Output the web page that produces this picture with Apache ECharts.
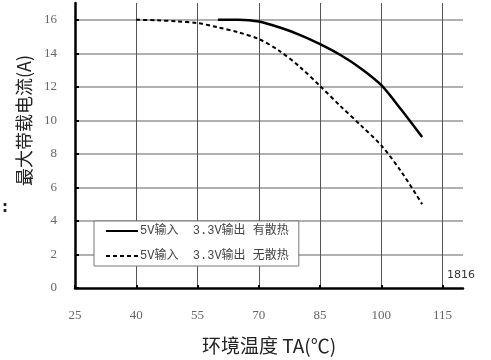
<!DOCTYPE html>
<html>
<head>
<meta charset="utf-8">
<script src="https://cdn.jsdelivr.net/npm/echarts@6/dist/echarts.min.js"></script>
<style>
  html, body { margin: 0; padding: 0; background: #fff; }
  #chart { width: 491px; height: 360px; }
</style>
</head>
<body>
<div id="chart"></div>
<script>
// Axis ranges and tick steps
const xRange = [25, 120];
const xStep = 15;
const yRange = [0, 17];
const yStep = 2;

// 5V in, 3.3V out, with heat sink
const tempWithSink = [60, 65, 70, 75, 80, 85, 90, 95, 100, 105, 110];
const currentWithSink = [16, 16, 15.9, 15.55, 15.1, 14.55, 13.9, 13.1, 12.1, 10.6, 9.0];

// 5V in, 3.3V out, without heat sink
const tempNoSink = [40, 45, 50, 55, 60, 65, 70, 75, 80, 85, 90, 95, 100, 105, 110];
const currentNoSink = [16, 15.97, 15.9, 15.8, 15.55, 15.25, 14.85, 14.15, 13.2, 12.05, 10.85, 9.7, 8.5, 6.9, 5.0];

const seriesNames = ['5V输入  3.3V输出 有散热', '5V输入  3.3V输出 无散热'];

const zip = (xs, ys) => xs.map((x, i) => [x, ys[i]]);

const labelFont = "Liberation Serif, DejaVu Serif, serif";
const cjkFont = "Noto Sans CJK SC";

const chart = echarts.init(document.getElementById('chart'), null, { renderer: 'canvas' });
chart.setOption({
  backgroundColor: '#fff',
  animation: false,
  grid: { left: 75, right: 28, top: 3, bottom: 66 },
  legend: {
    orient: 'vertical',
    left: 94,
    top: 221,
    padding: [4, 10, 4, 11],
    itemWidth: 32,
    itemHeight: 14,
    itemGap: 13,
    backgroundColor: '#fff',
    borderColor: '#777',
    borderWidth: 1,
    borderRadius: 0,
    itemStyle: { opacity: 0 },
    textStyle: { fontFamily: "Liberation Mono, Noto Sans CJK SC, monospace", fontSize: 12, color: '#444', padding: [0, 0, 0, -3] },
    data: seriesNames
  },
  xAxis: {
    type: 'value',
    min: xRange[0],
    max: xRange[1],
    interval: xStep,
    name: '环境温度 TA(℃)',
    nameLocation: 'middle',
    nameGap: 48,
    nameTextStyle: { fontFamily: cjkFont, fontSize: 19, color: '#222' },
    axisLine: { show: true, onZero: false, lineStyle: { color: '#000', width: 2.5 } },
    axisTick: { show: true, inside: true, length: 3, lineStyle: { color: '#000', width: 2 } },
    axisLabel: { margin: 21, showMaxLabel: false, fontFamily: labelFont, fontSize: 13, color: '#666' },
    splitLine: { show: true, showMinLine: false, showMaxLine: false, lineStyle: { color: '#555', width: 1 } }
  },
  yAxis: {
    type: 'value',
    min: yRange[0],
    max: yRange[1],
    interval: yStep,
    name: '最大带载电流(A)',
    nameLocation: 'middle',
    nameGap: 41,
    nameTextStyle: { fontFamily: cjkFont, fontSize: 18, color: '#222', padding: [0, 0, 0, 50] },
    axisLine: { show: true, onZero: false, lineStyle: { color: '#000', width: 2.5 } },
    axisTick: { show: true, inside: true, length: 4, lineStyle: { color: '#000', width: 2 } },
    axisLabel: { margin: 18, showMaxLabel: false, fontFamily: labelFont, fontSize: 13, color: '#666' },
    splitLine: { show: true, showMinLine: false, showMaxLine: false, lineStyle: { color: '#b0b0b0', width: 2 } }
  },
  series: [
    {
      name: seriesNames[0],
      type: 'line',
      data: zip(tempWithSink, currentWithSink),
      smooth: 0.3,
      symbol: 'none',
      lineStyle: { color: '#000', width: 2.5 },
      itemStyle: { color: '#000' }
    },
    {
      name: seriesNames[1],
      type: 'line',
      data: zip(tempNoSink, currentNoSink),
      smooth: 0.3,
      symbol: 'none',
      lineStyle: { color: '#000', width: 2, type: [4, 3] },
      itemStyle: { color: '#000' }
    }
  ],
  graphic: [
    {
      type: 'text',
      left: 447,
      top: 270,
      style: { text: '1816', fontFamily: "DejaVu Sans", fontSize: 11, fill: '#333' }
    },
    {
      type: 'text',
      left: 2,
      top: 201,
      style: { text: ':', fontFamily: "DejaVu Sans", fontSize: 15, fontWeight: 'bold', fill: '#222' }
    }
  ]
});
</script>
</body>
</html>
